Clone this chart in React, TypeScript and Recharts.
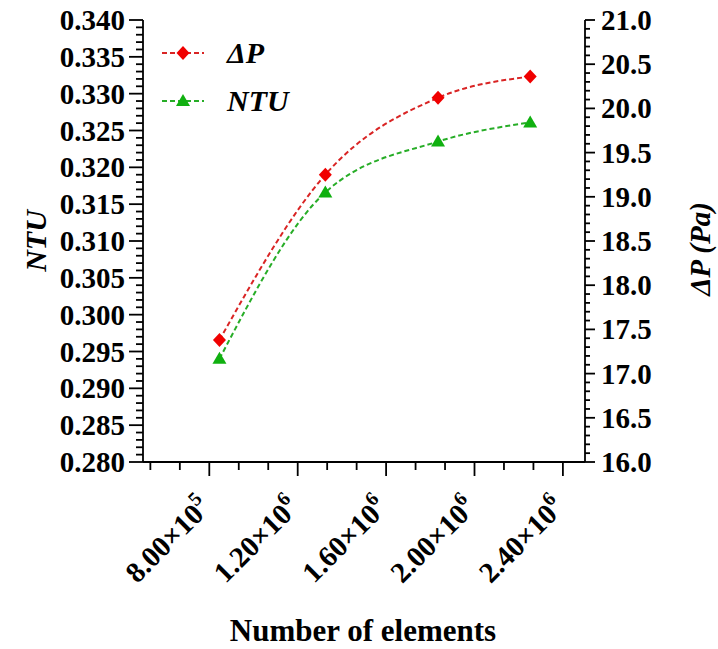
import React from 'react';
import { LineChart, Line, XAxis, YAxis, Legend, Label } from 'recharts';

// ---- data ----
const elements = [846000, 1325000, 1835000, 2252000];
const deltaP = [17.38, 19.25, 20.12, 20.36];
const ntu = [0.294, 0.3166, 0.3235, 0.3261];

// ---- tick labels ----
const xMantissas = ['8.00×10', '1.20×10', '1.60×10', '2.00×10', '2.40×10'];
const xExponents = ['5', '6', '6', '6', '6'];
const ntuMajorLabels = ['0.280', '0.285', '0.290', '0.295', '0.300', '0.305', '0.310', '0.315', '0.320', '0.325', '0.330', '0.335', '0.340'];
const dpMajorLabels = ['16.0', '16.5', '17.0', '17.5', '18.0', '18.5', '19.0', '19.5', '20.0', '20.5', '21.0'];

const data = elements.map((e, i) => ({ x: e, dp: deltaP[i], ntu: ntu[i] }));

// tick positions (major + minor)
const xStep = 400000 / 3;
const xTicks: number[] = [];
for (let i = 0; i < 15; i++) xTicks.push(800000 - 2 * xStep + i * xStep);
const ntuTicks: number[] = [];
for (let i = 0; i <= 60; i++) ntuTicks.push(+(0.28 + i * 0.001).toFixed(3));
const dpTicks: number[] = [];
for (let i = 0; i <= 50; i++) dpTicks.push(+(16 + i * 0.1).toFixed(1));

const FONT = "'Liberation Serif', Tinos, 'Times New Roman', Times, serif";
const RED_LINE = '#d92424';
const RED_MARK = '#f00000';
const GREEN_LINE = '#27ad27';
const GREEN_MARK = '#10b010';
const AXIS_W = 1.8;

const bold = { fontFamily: FONT, fontWeight: 700 } as React.CSSProperties;
const boldItalic = { fontFamily: FONT, fontWeight: 700, fontStyle: 'italic' } as React.CSSProperties;

const XTick = (props: any) => {
  const { x, y, index } = props;
  const major = index % 3 === 2;
  const mi = (index - 2) / 3;
  return (
    <g>
      <line x1={x} x2={x} y1={y} y2={y + (major ? 14 : 8)} stroke="#000" strokeWidth={AXIS_W} />
      {major && mi >= 0 && mi < xMantissas.length && (
        <text
          transform={`translate(${x + 3},${y + 47}) rotate(-45)`}
          textAnchor="end"
          style={{ ...bold, fontSize: 29 }}
          fill="#000"
        >
          {xMantissas[mi]}
          <tspan dy={-13} style={{ fontSize: 20 }}>{xExponents[mi]}</tspan>
        </text>
      )}
    </g>
  );
};

const LeftTick = (props: any) => {
  const { x, y, index } = props;
  const major = index % 5 === 0;
  return (
    <g>
      <line x1={x} x2={x - (major ? 14 : 7)} y1={y} y2={y} stroke="#000" strokeWidth={AXIS_W} />
      {major && (
        <text x={x - 18} y={y} textAnchor="end" dominantBaseline="central" style={{ ...bold, fontSize: 29 }} fill="#000">
          {ntuMajorLabels[index / 5]}
        </text>
      )}
    </g>
  );
};

const RightTick = (props: any) => {
  const { x, y, index } = props;
  const major = index % 5 === 0;
  return (
    <g>
      <line x1={x} x2={x + (major ? 10 : 5)} y1={y} y2={y} stroke="#000" strokeWidth={AXIS_W} />
      {major && (
        <text x={x + 16} y={y} textAnchor="start" dominantBaseline="central" style={{ ...bold, fontSize: 29 }} fill="#000">
          {dpMajorLabels[index / 5]}
        </text>
      )}
    </g>
  );
};

const Diamond = (props: any) => {
  const { cx, cy } = props;
  if (cx == null || cy == null) return <g />;
  return <path d={`M${cx},${cy - 7}L${cx + 6.5},${cy}L${cx},${cy + 7}L${cx - 6.5},${cy}Z`} fill={RED_MARK} />;
};

const Triangle = (props: any) => {
  const { cx, cy } = props;
  if (cx == null || cy == null) return <g />;
  return <path d={`M${cx},${cy - 7}L${cx + 7},${cy + 5}L${cx - 7},${cy + 5}Z`} fill={GREEN_MARK} />;
};

const LegendContent = () => (
  <svg width={170} height={95}>
    <line x1={7} x2={49} y1={23} y2={23} stroke={RED_LINE} strokeWidth={2} strokeDasharray="5 3" />
    <path d={`M28,16L34.5,23L28,30L21.5,23Z`} fill={RED_MARK} />
    <text x={72} y={33} style={{ ...boldItalic, fontSize: 30 }} fill="#000">ΔP</text>
    <line x1={7} x2={49} y1={71} y2={71} stroke={GREEN_LINE} strokeWidth={2} strokeDasharray="5 3" />
    <path d={`M28,64L35,76L21,76Z`} fill={GREEN_MARK} />
    <text x={72} y={81} style={{ ...boldItalic, fontSize: 30 }} fill="#000">NTU</text>
  </svg>
);

export default function App() {
  return (
    <div style={{ position: 'absolute', left: 0, top: 0, width: 718, height: 649, background: '#fff' }}>
      <LineChart width={718} height={649} data={data} margin={{ top: 20, right: 0, bottom: 0, left: 0 }}>
        <XAxis
          dataKey="x"
          type="number"
          domain={[500000, 2500000]}
          ticks={xTicks}
          interval={0}
          tick={<XTick />}
          tickLine={false}
          tickSize={0}
          tickMargin={0}
          height={187}
          axisLine={{ stroke: '#000', strokeWidth: AXIS_W }}
          allowDataOverflow
        >
          <Label
            content={(p: any) => {
              const vb = p.viewBox || { x: 143, y: 462, width: 442 };
              return (
                <text x={vb.x + vb.width / 2 - 1} y={vb.y + 179} textAnchor="middle" style={{ ...bold, fontSize: 31 }} fill="#000">
                  Number of elements
                </text>
              );
            }}
          />
        </XAxis>
        <XAxis
          xAxisId="top"
          orientation="top"
          dataKey="x"
          type="number"
          domain={[500000, 2500000]}
          height={0}
          tick={false}
          tickLine={false}
          axisLine={{ stroke: '#000', strokeWidth: AXIS_W }}
        />
        <YAxis
          yAxisId="left"
          orientation="left"
          type="number"
          domain={[0.28, 0.34]}
          ticks={ntuTicks}
          interval={0}
          width={143}
          tick={<LeftTick />}
          tickLine={false}
          tickSize={0}
          tickMargin={0}
          axisLine={{ stroke: '#000', strokeWidth: AXIS_W }}
          allowDataOverflow
        >
          <Label
            content={(p: any) => {
              const vb = p.viewBox || { x: 0, y: 20, height: 442 };
              const cx = vb.x + 35;
              const cy = vb.y + vb.height / 2;
              return (
                <text x={cx} y={cy} transform={`rotate(-90 ${cx} ${cy})`} textAnchor="middle" dominantBaseline="central" style={{ ...boldItalic, fontSize: 30 }} fill="#000">
                  NTU
                </text>
              );
            }}
          />
        </YAxis>
        <YAxis
          yAxisId="right"
          orientation="right"
          type="number"
          domain={[16, 21]}
          ticks={dpTicks}
          interval={0}
          width={133}
          tick={<RightTick />}
          tickLine={false}
          tickSize={0}
          tickMargin={0}
          axisLine={{ stroke: '#000', strokeWidth: AXIS_W }}
          allowDataOverflow
        >
          <Label
            content={(p: any) => {
              const vb = p.viewBox || { x: 585, y: 20, height: 442 };
              const cx = vb.x + 115;
              const cy = vb.y + vb.height / 2 + 8;
              return (
                <text x={cx} y={cy} transform={`rotate(-90 ${cx} ${cy})`} textAnchor="middle" dominantBaseline="central" style={{ ...boldItalic, fontSize: 29 }} fill="#000">
                  ΔP (Pa)
                </text>
              );
            }}
          />
        </YAxis>
        <Legend
          layout="horizontal"
          verticalAlign="middle"
          align="center"
          content={<LegendContent />}
          wrapperStyle={{ left: 155, top: 30, width: 170, height: 95 }}
        />
        <Line
          yAxisId="left"
          type="monotone"
          dataKey="ntu"
          stroke={GREEN_LINE}
          strokeWidth={2}
          strokeDasharray="5 3"
          dot={<Triangle />}
          activeDot={false}
          isAnimationActive={false}
        />
        <Line
          yAxisId="right"
          type="monotone"
          dataKey="dp"
          stroke={RED_LINE}
          strokeWidth={2}
          strokeDasharray="5 3"
          dot={<Diamond />}
          activeDot={false}
          isAnimationActive={false}
        />
      </LineChart>
    </div>
  );
}
